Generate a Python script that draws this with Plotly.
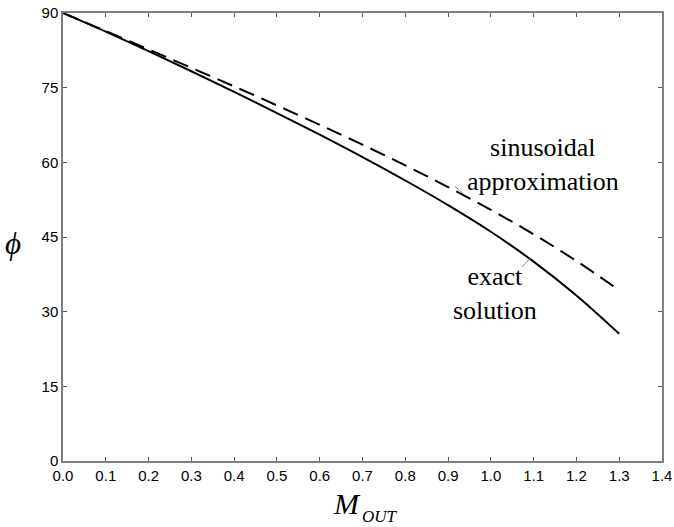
import plotly.graph_objects as go

# Data
m_out = [0.0, 0.1, 0.2, 0.3, 0.4, 0.5, 0.6, 0.7, 0.8, 0.9, 1.0, 1.1, 1.2, 1.3]
phi_exact = [90.0, 86.25, 82.35, 78.3, 74.15, 69.9, 65.55, 61.05, 56.35, 51.4, 46.05, 40.05, 33.25, 25.55]
phi_sinus = [90.0, 86.35, 82.69, 78.99, 75.25, 71.44, 67.54, 63.54, 59.38, 55.04, 50.46, 45.55, 40.18, 34.3]

x_ticks = [0.0, 0.1, 0.2, 0.3, 0.4, 0.5, 0.6, 0.7, 0.8, 0.9, 1.0, 1.1, 1.2, 1.3, 1.4]
y_ticks = [0, 15, 30, 45, 60, 75, 90]

serif = "Liberation Serif, Times New Roman, DejaVu Serif, serif"
sans = "Liberation Sans, Arial, sans-serif"

fig = go.Figure()
fig.add_trace(go.Scatter(x=m_out, y=phi_sinus, mode="lines", line_shape="spline",
                         line=dict(color="black", width=2, dash="16px,8px"),
                         name="sinusoidal approximation", hoverinfo="skip"))
fig.add_trace(go.Scatter(x=m_out, y=phi_exact, mode="lines", line_shape="spline",
                         line=dict(color="black", width=2),
                         name="exact solution", hoverinfo="skip"))

axis_common = dict(showgrid=False, zeroline=False, showline=True, linecolor="#7f7f7f",
                   linewidth=1.5, mirror="ticks", ticks="inside", ticklen=4,
                   tickcolor="#555555", tickwidth=1, automargin=False,
                   tickfont=dict(family=sans, size=15, color="black"))

fig.update_xaxes(range=[0, 1.4], tickvals=x_ticks,
                 ticktext=[f"{v:.1f}" for v in x_ticks], **axis_common)
fig.update_yaxes(range=[0, 90], tickvals=y_ticks,
                 ticktext=[str(v) for v in y_ticks], **axis_common)

W, H = 674, 527
L, R, T, B = 63, 12, 13, 66

annotations = [
    dict(text="sinusoidal<br>approximation", x=1.122, y=59.6, xref="x", yref="y",
         showarrow=False, font=dict(family=serif, size=26, color="black"),
         xanchor="center", yanchor="middle"),
    dict(text="exact<br>solution", x=1.010, y=33.6, xref="x", yref="y",
         showarrow=False, font=dict(family=serif, size=26, color="black"),
         xanchor="center", yanchor="middle"),
    dict(text="<i>M</i>", x=347, y=503, xref="paper", yref="paper",
         showarrow=False, font=dict(family=serif, size=30, color="black")),
    dict(text="<i>OUT</i>", x=380, y=516, xref="paper", yref="paper",
         showarrow=False, font=dict(family=serif, size=17, color="black")),
    dict(text="<i>\u03d5</i>", x=13, y=243, xref="paper", yref="paper",
         showarrow=False, font=dict(family=serif, size=31, color="black")),
]

# convert pixel positions for axis-title annotations to paper coords
for a in annotations:
    if a["xref"] == "paper":
        px, py = a["x"], a["y"]
        a["x"] = (px - L) / (W - L - R)
        a["y"] = (H - B - py) / (H - T - B)
        a["xanchor"] = "center"
        a["yanchor"] = "middle"

fig.update_layout(
    width=W, height=H,
    margin=dict(l=L, r=R, t=T, b=B, autoexpand=False),
    plot_bgcolor="white", paper_bgcolor="white",
    showlegend=False,
    annotations=annotations,
    shapes=[
        dict(type="line", xref="x", yref="y", x0=0.916, y0=55.2, x1=0.936, y1=53.7,
             line=dict(color="#888888", width=1)),
        dict(type="line", xref="x", yref="y", x0=1.073, y0=39.0, x1=1.094, y1=40.9,
             line=dict(color="#888888", width=1)),
    ],
)

fig.write_html("out.html", config={"displayModeBar": False},
               post_script="document.body.style.margin='0';document.body.style.overflow='hidden';")
